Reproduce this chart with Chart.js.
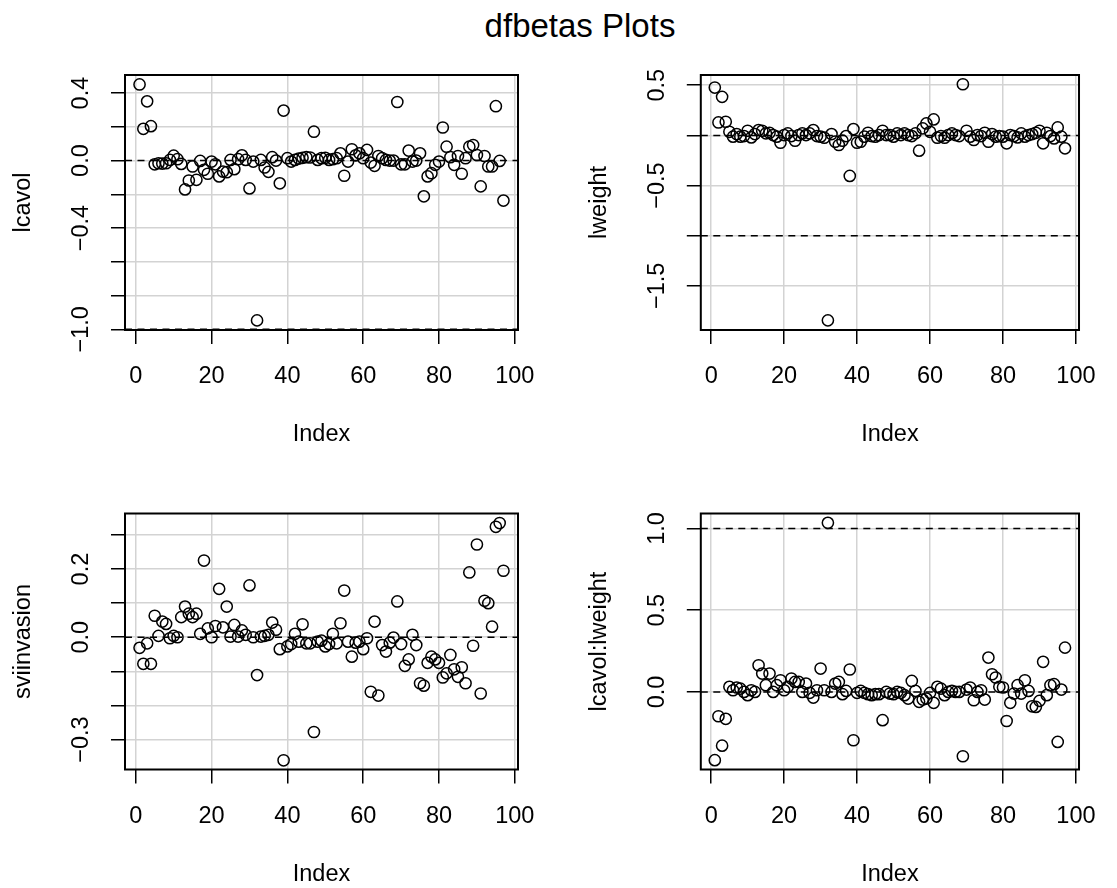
<!DOCTYPE html>
<html>
<head>
<meta charset="utf-8">
<script src="https://cdn.jsdelivr.net/npm/chart.js@4.4.1/dist/chart.umd.min.js"></script>
<style>
  html, body { margin: 0; padding: 0; background: #fff; }
  body { width: 1117px; height: 888px; position: relative; overflow: hidden;
         font-family: "Liberation Sans", Arial, sans-serif; }
  #title { position: absolute; left: 380px; width: 400px; top: 9px; text-align: center;
           font-size: 33px; line-height: 33px; color: #000; }
  canvas { position: absolute; }
</style>
</head>
<body>
<div id="title">dfbetas Plots</div>
<canvas id="p1" width="560" height="420" style="left:0;top:50px;width:560px;height:420px"></canvas>
<canvas id="p2" width="557" height="420" style="left:560px;top:50px;width:557px;height:420px"></canvas>
<canvas id="p3" width="560" height="418" style="left:0;top:470px;width:560px;height:418px"></canvas>
<canvas id="p4" width="557" height="418" style="left:560px;top:470px;width:557px;height:418px"></canvas>
<script>
// dfbetas per observation (index 1..97)
const lcavol = [
  0.451, 0.188, 0.351, 0.204, -0.022, -0.016, -0.018, -0.016, 0.004, 0.029,
  0.008, -0.020, -0.171, -0.118, -0.035, -0.114, -0.002, -0.055, -0.078, -0.006,
  -0.022, -0.094, -0.065, -0.069, 0.004, -0.051, 0.008, 0.031, 0.004, -0.165,
  -0.006, -0.947, 0.004, -0.041, -0.067, 0.020, 0.000, -0.135, 0.296, 0.014,
  -0.006, 0.004, 0.012, 0.016, 0.020, 0.018, 0.171, 0.004, 0.014, 0.016,
  0.004, 0.008, 0.014, 0.043, -0.090, -0.006, 0.067, 0.031, 0.043, 0.014,
  0.063, -0.012, -0.031, 0.027, 0.014, 0.004, 0.000, 0.000, 0.347, -0.022,
  -0.022, 0.059, -0.006, 0.000, 0.043, -0.212, -0.094, -0.075, -0.025, -0.006,
  0.196, 0.082, 0.020, -0.025, 0.027, -0.078, 0.014, 0.082, 0.092, 0.033,
  -0.153, 0.027, -0.035, -0.035, 0.322, -0.002, -0.237
];
const lweight = [
  0.477, 0.129, 0.384, 0.136, 0.036, -0.013, 0.013, -0.013, -0.007, 0.046,
  -0.020, 0.013, 0.053, 0.046, 0.020, 0.026, 0.003, -0.013, -0.073, 0.003,
  0.020, -0.007, -0.053, 0.003, 0.020, 0.003, 0.020, 0.053, -0.007, -0.013,
  -0.023, -1.844, 0.013, -0.063, -0.096, -0.053, -0.007, -0.404, 0.063, -0.073,
  -0.063, -0.013, 0.026, -0.007, -0.013, 0.003, 0.046, 0.003, 0.003, -0.013,
  0.020, 0.003, 0.020, 0.003, -0.007, 0.020, -0.152, 0.070, 0.119, 0.036,
  0.159, -0.023, -0.007, -0.023, 0.003, 0.020, 0.003, -0.007, 0.510, 0.046,
  -0.013, -0.046, 0.003, -0.007, 0.026, -0.063, 0.013, -0.013, -0.007, -0.013,
  -0.079, 0.003, -0.007, -0.020, 0.020, -0.013, 0.003, 0.013, 0.026, 0.046,
  -0.079, 0.026, -0.007, -0.030, 0.079, -0.013, -0.129
];
const sviinvasion = [
  -0.031, -0.078, -0.018, -0.078, 0.063, 0.004, 0.046, 0.039, -0.003, 0.004,
  0.000, 0.059, 0.090, 0.069, 0.059, 0.069, 0.010, 0.225, 0.026, 0.000,
  0.033, 0.142, 0.029, 0.090, 0.002, 0.036, 0.002, 0.020, 0.007, 0.152,
  0.000, -0.111, 0.002, 0.004, 0.007, 0.043, 0.022, -0.035, -0.361, -0.027,
  -0.020, 0.010, -0.013, 0.038, -0.018, -0.018, -0.278, -0.013, -0.010, -0.027,
  -0.020, 0.010, -0.018, 0.041, 0.137, -0.013, -0.057, -0.016, -0.013, -0.035,
  -0.003, -0.160, 0.046, -0.171, -0.023, -0.042, -0.016, -0.001, 0.105, -0.020,
  -0.084, -0.065, 0.007, -0.023, -0.135, -0.142, -0.075, -0.057, -0.065, -0.075,
  -0.118, -0.106, -0.052, -0.094, -0.116, -0.088, -0.135, 0.190, -0.025, 0.272,
  -0.165, 0.107, 0.100, 0.031, 0.324, 0.335, 0.195
];
const lcavolLweight = [
  -0.418, -0.149, -0.329, -0.165, 0.031, 0.010, 0.027, 0.020, 0.000, -0.020,
  0.010, 0.000, 0.163, 0.112, 0.041, 0.112, 0.000, 0.041, 0.071, 0.010,
  0.031, 0.082, 0.061, 0.061, 0.000, 0.051, -0.006, -0.035, 0.010, 0.143,
  0.010, 1.035, 0.000, 0.051, 0.061, -0.014, 0.006, 0.137, -0.296, -0.006,
  0.006, -0.006, -0.014, -0.020, -0.014, -0.014, -0.173, 0.000, -0.010, -0.014,
  0.000, -0.006, -0.020, -0.041, 0.067, 0.006, -0.061, -0.047, -0.041, -0.006,
  -0.067, 0.031, 0.020, -0.020, 0.000, 0.006, 0.000, 0.000, -0.394, 0.014,
  0.027, -0.051, 0.000, 0.010, -0.047, 0.210, 0.108, 0.088, 0.031, 0.027,
  -0.178, -0.067, -0.010, 0.041, -0.010, 0.071, 0.006, -0.088, -0.092, -0.055,
  0.184, -0.020, 0.041, 0.047, -0.306, 0.014, 0.271
];

const xTicks = [0, 20, 40, 60, 80, 100];
const xRange = [-2.84, 100.84];

const yTicks1 = [-1.0, -0.8, -0.6, -0.4, -0.2, 0.0, 0.2, 0.4];
const yLabels1 = ['−1.0', '', '', '−0.4', '', '0.0', '', '0.4'];
const yRange1 = [-1.004, 0.507];
const cutoffs1 = [0, -1];

const yTicks2 = [-1.5, -1.0, -0.5, 0.0, 0.5];
const yLabels2 = ['−1.5', '', '−0.5', '', '0.5'];
const yRange2 = [-1.94, 0.602];
const cutoffs2 = [0, -1];

const yTicks3 = [-0.3, -0.2, -0.1, 0.0, 0.1, 0.2, 0.3];
const yLabels3 = ['−0.3', '', '', '0.0', '', '0.2', ''];
const yRange3 = [-0.388, 0.363];
const cutoffs3 = [0];

const yTicks4 = [0.0, 0.5, 1.0];
const yLabels4 = ['0.0', '0.5', '1.0'];
const yRange4 = [-0.475, 1.092];
const cutoffs4 = [0, 1];

const FAMILY = '"Liberation Sans", Arial, sans-serif';
const SIZE = 23.5;
const font = { family: FAMILY, size: SIZE, lineHeight: 1 };
const XAXIS_H = 117;

// gap so the rotated y labels sit 43.5px left of the box
function labelPad(labels) {
  const ctx = document.createElement('canvas').getContext('2d');
  ctx.font = SIZE + 'px ' + FAMILY;
  const w = Math.max(...labels.map(l => ctx.measureText(l).width));
  return 29.5 - w / 2;
}

const frame = {
  id: 'frame',
  afterDraw(chart) {
    const { ctx, chartArea: a } = chart;
    ctx.save();
    ctx.strokeStyle = '#000';
    ctx.lineWidth = 2;
    ctx.strokeRect(a.left, a.top, a.right - a.left, a.bottom - a.top);
    ctx.restore();
  }
};

const gridOpts = { color: '#d3d3d3', lineWidth: 1.5, tickColor: '#000', tickWidth: 1.5, tickLength: 14 };

function makePanel(id, values, yTicks, yLabels, yRange, cutoffs, yTitle, box, titleX) {
  const canvas = document.getElementById(id);
  const datasets = [{
    data: values.map((v, i) => ({ x: i + 1, y: v })),
    pointRadius: 5.6,
    pointBorderWidth: 1.5,
    pointBorderColor: '#000',
    pointBackgroundColor: 'rgba(0,0,0,0)',
    showLine: false
  }];
  cutoffs.forEach(c => datasets.push({
    data: [{ x: xRange[0], y: c }, { x: xRange[1], y: c }],
    showLine: true,
    pointRadius: 0,
    borderColor: '#000',
    borderWidth: 1.5,
    borderDash: [7, 5.5]
  }));

  new Chart(canvas, {
    type: 'scatter',
    data: { datasets },
    plugins: [frame],
    options: {
      responsive: false,
      animation: false,
      layout: {
        padding: {
          left: 0,
          top: box.top,
          right: canvas.width - box.right,
          bottom: canvas.height - box.bottom - XAXIS_H
        }
      },
      plugins: { legend: { display: false }, tooltip: { enabled: false } },
      scales: {
        x: {
          type: 'linear',
          min: xRange[0],
          max: xRange[1],
          afterBuildTicks: s => { s.ticks = xTicks.map(v => ({ value: v })); },
          afterFit: s => { s.height = XAXIS_H; },
          grid: gridOpts,
          border: { display: false },
          ticks: { font, color: '#000', padding: 21.25, maxRotation: 0, autoSkip: false,
                   callback: v => String(v) },
          title: { display: true, text: 'Index', font, color: '#000', padding: { top: 0, bottom: 0.25 } }
        },
        y: {
          type: 'linear',
          min: yRange[0],
          max: yRange[1],
          afterBuildTicks: s => { s.ticks = yTicks.map(v => ({ value: v })); },
          afterFit: s => { s.width = box.left; },
          grid: gridOpts,
          border: { display: false },
          ticks: { font, color: '#000', padding: labelPad(yLabels), minRotation: 90, maxRotation: 90,
                   crossAlign: 'center', autoSkip: false, callback: (v, i) => yLabels[i] },
          title: { display: true, text: yTitle, font, color: '#000',
                   padding: { top: titleX - SIZE / 2, bottom: 0 } }
        }
      }
    }
  });
}

makePanel('p1', lcavol, yTicks1, yLabels1, yRange1, cutoffs1, 'lcavol',
          { left: 125, right: 518, top: 25, bottom: 280 }, 24);
makePanel('p2', lweight, yTicks2, yLabels2, yRange2, cutoffs2, 'lweight',
          { left: 140.8, right: 533, top: 25, bottom: 280 }, 40);
makePanel('p3', sviinvasion, yTicks3, yLabels3, yRange3, cutoffs3, 'sviinvasion',
          { left: 125, right: 518, top: 43.5, bottom: 299.5 }, 24);
makePanel('p4', lcavolLweight, yTicks4, yLabels4, yRange4, cutoffs4, 'lcavol:lweight',
          { left: 140.8, right: 533, top: 43.5, bottom: 299.5 }, 40);
</script>
</body>
</html>
